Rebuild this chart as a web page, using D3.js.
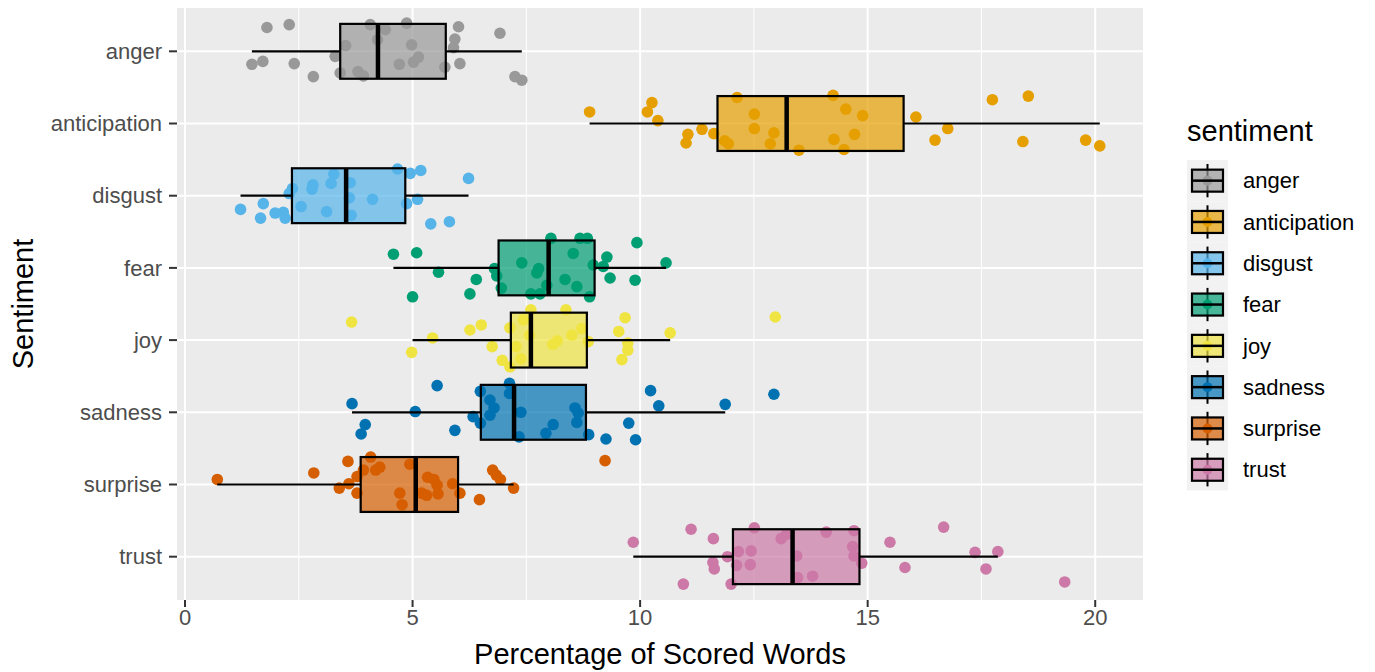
<!DOCTYPE html>
<html>
<head>
    <title>Sentiment Boxplot</title>
    <script src="https://d3js.org/d3.v7.min.js"></script>
    <style>
        body { margin: 0; background: #fff; }
        text { font-family: "Liberation Sans", Arial, sans-serif; }
        .tick-label { font-size: 22px; fill: #4d4d4d; }
        .axis-title { font-size: 29px; fill: #000; }
        .legend-label { font-size: 22px; fill: #000; }
    </style>
</head>
<body>
    <svg width="1375" height="672"></svg>

    <script>
        // Categories and colours (Okabe-Ito)
        const categories = ["anger", "anticipation", "disgust", "fear", "joy", "sadness", "surprise", "trust"];
        const colors = ["#999999", "#E69F00", "#56B4E9", "#009E73", "#F0E442", "#0072B2", "#D55E00", "#CC79A7"];

        // Box statistics
        const whiskerLow = [1.47, 8.89, 1.22, 4.58, 5.00, 3.67, 0.71, 9.85];
        const q1 = [3.41, 11.70, 2.35, 6.89, 7.16, 6.50, 3.86, 12.04];
        const median = [4.24, 13.22, 3.54, 7.99, 7.60, 7.23, 5.07, 13.35];
        const q3 = [5.73, 15.79, 4.84, 9.00, 8.83, 8.81, 6.00, 14.82];
        const whiskerHigh = [7.40, 20.10, 6.23, 10.57, 10.66, 11.87, 7.22, 17.86];

        // Jittered points: [value, vertical jitter in category units]
        const angerPts = [[1.80,-0.33],[2.29,-0.37],[4.07,-0.37],[4.40,-0.30],[4.87,-0.39],[6.01,-0.34],[6.92,-0.25],
            [5.93,-0.17],[5.90,-0.05],[3.53,-0.08],[4.23,-0.16],[4.98,-0.09],[5.13,0.08],[5.02,0.15],[4.71,0.18],
            [3.30,0.07],[1.47,0.18],[1.71,0.14],[2.40,0.17],[2.82,0.35],[3.41,0.30],[3.80,0.28],[3.92,0.34],
            [5.71,0.22],[6.04,0.17],[7.25,0.35],[7.40,0.40]];
        const anticipationPts = [[8.89,-0.16],[10.26,-0.29],[10.16,-0.16],[10.39,-0.04],[11.05,0.15],[11.01,0.27],
            [11.36,0.08],[11.62,0.14],[11.86,0.24],[11.94,0.28],[12.13,-0.36],[12.51,-0.13],[12.51,0.07],[12.94,0.13],
            [12.86,0.28],[13.49,0.37],[14.24,-0.39],[14.52,-0.20],[14.89,-0.11],[14.71,0.15],[14.26,0.22],[14.48,0.36],
            [16.06,-0.09],[16.76,0.07],[16.48,0.23],[17.74,-0.33],[18.53,-0.38],[18.41,0.25],[19.79,0.23],[20.10,0.31]];
        const disgustPts = [[1.22,0.19],[1.72,0.11],[1.66,0.31],[1.98,0.24],[2.16,0.23],[2.20,0.31],[2.29,-0.03],
            [2.36,-0.10],[2.55,0.15],[2.81,-0.15],[2.79,-0.09],[3.21,-0.17],[3.27,-0.30],[3.11,0.22],[3.63,-0.18],
            [3.61,0.03],[3.65,0.27],[4.12,0.05],[4.67,-0.37],[4.95,-0.31],[5.18,-0.35],[4.87,0.11],[5.11,0.05],
            [5.40,0.39],[5.81,0.36],[6.23,-0.24]];
        const fearPts = [[4.58,-0.19],[5.09,-0.21],[5.57,0.06],[5.00,0.40],[6.40,0.16],[6.26,0.36],[6.80,0.01],
            [6.85,0.11],[6.95,0.28],[7.40,-0.07],[7.73,0.07],[7.77,0.01],[7.60,0.36],[7.80,0.36],[7.95,0.24],
            [8.04,-0.41],[8.53,-0.20],[8.35,0.16],[8.61,0.26],[8.68,-0.41],[8.84,-0.41],[8.89,0.40],[8.97,-0.04],
            [9.27,-0.15],[9.19,-0.02],[9.34,0.14],[9.93,-0.35],[9.89,0.17],[10.57,-0.07]];
        const joyPts = [[3.66,-0.25],[4.98,0.17],[5.44,-0.03],[6.26,-0.14],[6.51,-0.21],[6.75,0.09],[6.97,0.28],
            [7.14,0.37],[7.14,-0.17],[7.27,0.09],[7.38,0.26],[7.44,-0.28],[7.60,-0.42],[7.57,-0.07],[8.08,0.06],
            [8.18,0.01],[8.37,-0.42],[8.50,-0.07],[8.72,-0.16],[8.86,0.02],[9.53,-0.12],[9.67,-0.31],[9.73,0.04],
            [9.73,0.14],[9.60,0.27],[10.66,-0.10],[12.97,-0.32]];
        const sadnessPts = [[3.67,-0.12],[3.96,0.17],[3.87,0.30],[5.06,-0.01],[5.54,-0.37],[5.93,0.25],[6.33,0.06],
            [6.49,-0.29],[6.49,0.15],[6.70,-0.17],[6.79,-0.06],[6.70,0.04],[7.13,-0.40],[7.13,-0.26],[7.38,0.00],
            [7.34,0.34],[7.93,0.29],[8.09,0.17],[8.57,-0.06],[8.64,0.01],[8.61,0.14],[8.87,0.31],[9.25,0.37],
            [9.75,0.15],[9.90,0.38],[10.23,-0.30],[10.41,-0.09],[11.87,-0.11],[12.94,-0.25]];
        const surprisePts = [[0.71,-0.07],[2.83,-0.16],[3.58,-0.32],[3.39,0.05],[3.60,-0.01],[3.78,-0.11],[3.78,0.12],
            [3.92,-0.20],[4.08,-0.38],[4.19,-0.20],[4.28,-0.24],[4.77,0.28],[4.72,0.12],[4.94,-0.28],[5.20,0.12],
            [5.31,0.15],[5.33,-0.10],[5.47,-0.07],[5.54,0.01],[5.56,0.13],[5.88,-0.01],[6.04,0.12],[6.47,0.21],
            [6.76,-0.20],[6.84,-0.13],[6.93,-0.07],[7.22,0.05],[9.23,-0.33]];
        const trustPts = [[9.85,-0.20],[11.12,-0.38],[10.95,0.38],[11.61,-0.25],[11.60,0.08],[11.63,0.17],[12.00,0.38],
            [11.92,0.00],[12.16,-0.07],[12.12,0.12],[12.44,-0.08],[12.42,0.11],[12.51,-0.40],[13.10,-0.25],
            [13.22,-0.31],[13.44,-0.01],[13.46,0.29],[13.79,0.27],[14.09,-0.34],[14.70,-0.36],[14.67,-0.14],
            [14.70,-0.01],[14.87,0.09],[15.49,-0.20],[15.82,0.15],[16.67,-0.41],[17.36,-0.06],[17.86,-0.07],
            [17.60,0.17],[19.33,0.35]];
        const points = [angerPts, anticipationPts, disgustPts, fearPts, joyPts, sadnessPts, surprisePts, trustPts];

        const xTicks = [0, 5, 10, 15, 20];
        const xMinor = [2.5, 7.5, 12.5, 17.5];

        const svg = d3.select("svg");
        const panel = { left: 177, right: 1143, top: 8, bottom: 600 };

        const x = d3.scaleLinear().domain([-0.176, 21.05]).range([panel.left, panel.right]);
        // category i sits at position i+1, with 0.6 padding each side
        const y = d3.scaleLinear().domain([0.4, categories.length + 0.6]).range([panel.top, panel.bottom]);
        const boxHalf = 0.38;

        // Panel background and grid
        svg.append("rect")
            .attr("x", panel.left).attr("y", panel.top)
            .attr("width", panel.right - panel.left).attr("height", panel.bottom - panel.top)
            .attr("fill", "#ebebeb");

        svg.append("g").selectAll("line").data(xMinor).enter().append("line")
            .attr("x1", d => x(d)).attr("x2", d => x(d))
            .attr("y1", panel.top).attr("y2", panel.bottom)
            .attr("stroke", "#fff").attr("stroke-width", 1);

        svg.append("g").selectAll("line").data(xTicks).enter().append("line")
            .attr("x1", d => x(d)).attr("x2", d => x(d))
            .attr("y1", panel.top).attr("y2", panel.bottom)
            .attr("stroke", "#fff").attr("stroke-width", 2);

        svg.append("g").selectAll("line").data(categories).enter().append("line")
            .attr("x1", panel.left).attr("x2", panel.right)
            .attr("y1", (d, i) => y(i + 1)).attr("y2", (d, i) => y(i + 1))
            .attr("stroke", "#fff").attr("stroke-width", 2);

        // Jittered points
        points.forEach((pts, i) => {
            svg.append("g").selectAll("circle").data(pts).enter().append("circle")
                .attr("cx", d => x(d[0]))
                .attr("cy", d => y(i + 1 + d[1]))
                .attr("r", 5.8)
                .attr("fill", colors[i]);
        });

        // Boxes with whiskers (two segments, outside the box)
        const box = svg.append("g").selectAll("g").data(categories).enter().append("g");
        box.append("line")
            .attr("x1", (d, i) => x(whiskerLow[i])).attr("x2", (d, i) => x(q1[i]))
            .attr("y1", (d, i) => y(i + 1)).attr("y2", (d, i) => y(i + 1))
            .attr("stroke", "#000").attr("stroke-width", 2.2);
        box.append("line")
            .attr("x1", (d, i) => x(q3[i])).attr("x2", (d, i) => x(whiskerHigh[i]))
            .attr("y1", (d, i) => y(i + 1)).attr("y2", (d, i) => y(i + 1))
            .attr("stroke", "#000").attr("stroke-width", 2.2);
        box.append("rect")
            .attr("x", (d, i) => x(q1[i]))
            .attr("width", (d, i) => x(q3[i]) - x(q1[i]))
            .attr("y", (d, i) => y(i + 1 - boxHalf))
            .attr("height", (d, i) => y(i + 1 + boxHalf) - y(i + 1 - boxHalf))
            .attr("fill", (d, i) => colors[i])
            .attr("fill-opacity", 0.7)
            .attr("stroke", "#000").attr("stroke-width", 2.2);
        box.append("line")
            .attr("x1", (d, i) => x(median[i])).attr("x2", (d, i) => x(median[i]))
            .attr("y1", (d, i) => y(i + 1 - boxHalf)).attr("y2", (d, i) => y(i + 1 + boxHalf))
            .attr("stroke", "#000").attr("stroke-width", 4.5);

        // Y axis ticks and labels
        const yAxis = svg.append("g");
        yAxis.selectAll("line").data(categories).enter().append("line")
            .attr("x1", panel.left - 8).attr("x2", panel.left)
            .attr("y1", (d, i) => y(i + 1)).attr("y2", (d, i) => y(i + 1))
            .attr("stroke", "#333").attr("stroke-width", 2);
        yAxis.selectAll("text").data(categories).enter().append("text")
            .attr("class", "tick-label")
            .attr("x", panel.left - 15)
            .attr("y", (d, i) => y(i + 1))
            .attr("dy", "0.35em")
            .attr("text-anchor", "end")
            .text(d => d);

        // X axis ticks and labels
        const xAxis = svg.append("g");
        xAxis.selectAll("line").data(xTicks).enter().append("line")
            .attr("x1", d => x(d)).attr("x2", d => x(d))
            .attr("y1", panel.bottom).attr("y2", panel.bottom + 7)
            .attr("stroke", "#333").attr("stroke-width", 2);
        xAxis.selectAll("text").data(xTicks).enter().append("text")
            .attr("class", "tick-label")
            .attr("x", d => x(d))
            .attr("y", panel.bottom + 25)
            .attr("text-anchor", "middle")
            .text(d => d);

        // Axis titles
        svg.append("text")
            .attr("class", "axis-title")
            .attr("x", (panel.left + panel.right) / 2)
            .attr("y", 664)
            .attr("text-anchor", "middle")
            .text("Percentage of Scored Words");

        svg.append("text")
            .attr("class", "axis-title")
            .attr("transform", `translate(33, ${(panel.top + panel.bottom) / 2}) rotate(-90)`)
            .attr("text-anchor", "middle")
            .text("Sentiment");

        // Legend
        const legend = svg.append("g").attr("transform", "translate(1187, 0)");
        legend.append("text")
            .attr("class", "axis-title")
            .attr("x", 0).attr("y", 141)
            .text("sentiment");

        const keyH = 41.3, keyTop = 160;
        const key = legend.selectAll("g.key").data(categories).enter().append("g")
            .attr("class", "key")
            .attr("transform", (d, i) => `translate(0, ${keyTop + i * keyH})`);
        key.append("rect")
            .attr("width", 41).attr("height", keyH)
            .attr("fill", "#f2f2f2");
        key.append("line")
            .attr("x1", 20.5).attr("x2", 20.5)
            .attr("y1", 4).attr("y2", keyH - 4)
            .attr("stroke", "#000").attr("stroke-width", 2);
        key.append("circle")
            .attr("cx", 20.5).attr("cy", keyH / 2).attr("r", 5)
            .attr("fill", (d, i) => colors[i]);
        key.append("rect")
            .attr("x", 5).attr("y", keyH / 2 - 11)
            .attr("width", 31).attr("height", 22)
            .attr("fill", (d, i) => colors[i]).attr("fill-opacity", 0.7)
            .attr("stroke", "#000").attr("stroke-width", 2.2);
        key.append("line")
            .attr("x1", 5).attr("x2", 36)
            .attr("y1", keyH / 2).attr("y2", keyH / 2)
            .attr("stroke", "#000").attr("stroke-width", 2.5);
        key.append("text")
            .attr("class", "legend-label")
            .attr("x", 56).attr("y", keyH / 2)
            .attr("dy", "0.35em")
            .text(d => d);
    </script>
</body>
</html>
